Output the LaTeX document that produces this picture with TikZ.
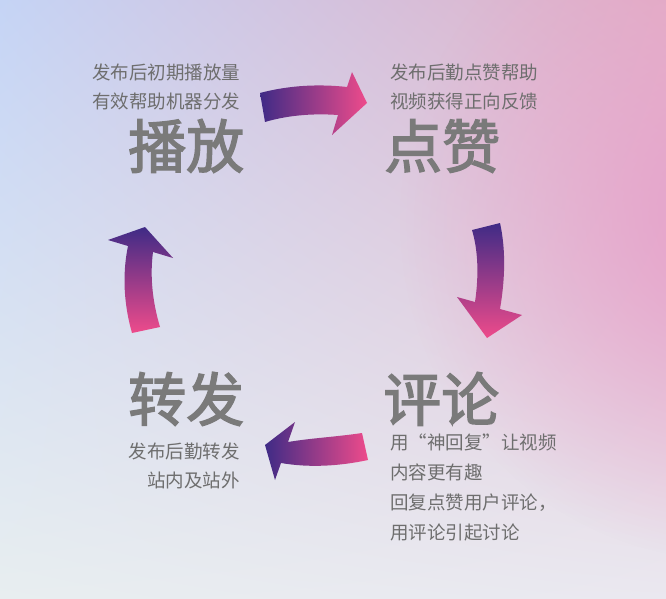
\documentclass[tikz,border=0pt]{standalone}
\usepackage{fontspec}
\setmainfont{Noto Sans CJK SC}
\newfontfamily\titlefont{Noto Sans CJK SC}[FakeBold=2.4]
\usetikzlibrary{fadings,shadings}
\tikzfading[name=glowfade, inner color=transparent!0, outer color=transparent!100]
\definecolor{purp}{HTML}{3F2B86}
\definecolor{pnk}{HTML}{EE4B8B}
\definecolor{bgUL}{HTML}{C5D4F5}
\definecolor{bgUR}{HTML}{E3B0C6}
\definecolor{bgLL}{HTML}{E8EEF0}
\definecolor{bgLR}{HTML}{EAE8F0}
\definecolor{glow}{HTML}{E6A0CA}
\definecolor{titlegray}{HTML}{7A7A7A}
\definecolor{textgray}{HTML}{6E6E6E}
\tikzset{
  titletext/.style={font=\titlefont\fontsize{58}{60}\selectfont, text=titlegray, inner sep=0pt},
  smalltext/.style={font=\fontsize{18.5}{20}\selectfont, text=textgray, inner sep=0pt},
}
\begin{document}
\begin{tikzpicture}[x=1pt,y=-1pt]
\useasboundingbox (0,0) rectangle (666,599);
% background
\shade[upper left=bgUL, upper right=bgUR, lower left=bgLL, lower right=bgLR] (0,0) rectangle (666,599);
\fill[glow, path fading=glowfade] (730,220) ellipse (330 and 340);
% arrows
\shade[left color=purp, right color=pnk]
  (260,93) .. controls (290,85) and (320,84) .. (347,87) -- (352,72) -- (367,103) -- (332,135) -- (338,115)
  .. controls (310,113) and (285,116) .. (265,122) -- cycle;
\shade[top color=purp, bottom color=pnk]
  (472,230) -- (500,223) .. controls (506,250) and (505,280) .. (500,309) -- (522,315) -- (487,338) -- (457,297) -- (475,302)
  .. controls (479,275) and (478,250) .. (472,230) -- cycle;
\shade[left color=purp, right color=pnk]
  (362,433) .. controls (335,437) and (312,438) .. (288,442) -- (295,422) -- (265,445) -- (275,480) -- (281,463)
  .. controls (310,468) and (340,466) .. (368,460) -- cycle;
\shade[top color=purp, bottom color=pnk]
  (132,333) .. controls (124,305) and (122,275) .. (128,246) -- (108,240) -- (145,227) -- (173,258) -- (153,252)
  .. controls (150,275) and (152,300) .. (160,327) -- cycle;
% titles
\node[titletext, anchor=base west] (bofang) at (128,168) {播放};
\node[titletext, anchor=base west] (dianzan) at (384,168) {点赞};
\node[titletext, anchor=base west] (pinglun) at (383,421) {评论};
\node[titletext, anchor=base west] (zhuanfa) at (128,421) {转发};
% descriptions
\node[smalltext, anchor=base west] (bf1) at (92,80) {发布后初期播放量};
\node[smalltext, anchor=base west] (bf2) at (92,109) {有效帮助机器分发};
\node[smalltext, anchor=base west] (dz1) at (390,80) {发布后勤点赞帮助};
\node[smalltext, anchor=base west] (dz2) at (390,109) {视频获得正向反馈};
\node[smalltext, anchor=base west] (pl1) at (390,449) {用“神回复”让视频};
\node[smalltext, anchor=base west] (pl2) at (390,479) {内容更有趣};
\node[smalltext, anchor=base west] (pl3) at (390,509) {回复点赞用户评论，};
\node[smalltext, anchor=base west] (pl4) at (390,539) {用评论引起讨论};
\node[smalltext, anchor=base east] (zf1) at (240,458) {发布后勤转发};
\node[smalltext, anchor=base east] (zf2) at (240,487) {站内及站外};
\end{tikzpicture}
\end{document}
